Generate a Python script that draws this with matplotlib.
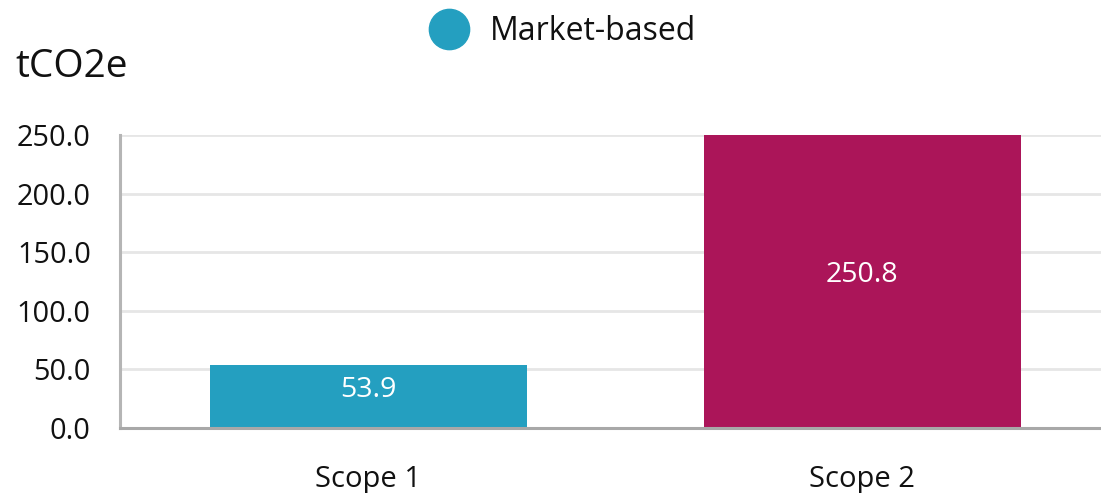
import matplotlib
matplotlib.use("Agg")
import matplotlib.pyplot as plt
from matplotlib.lines import Line2D

plt.rcParams['font.family'] = ['Open Sans', 'DejaVu Sans']

categories = ["Scope 1", "Scope 2"]
values = [53.9, 250.8]
bar_colors = ["#249fc0", "#ab1559"]
legend_label = "Market-based"
y_ticks = [0, 50, 100, 150, 200, 250]
y_unit = "tCO2e"

W, H = 1101, 493
fig = plt.figure(figsize=(W / 100, H / 100), dpi=100)
ax = fig.add_axes([120 / W, (H - 428) / H, 1 - 120 / W, (428 - 135) / H])

x = list(range(len(categories)))
bars = ax.bar(x, values, width=0.642, color=bar_colors, zorder=3)

ax.set_xlim(-0.503, 1.483)
ax.set_ylim(0, 250.3)
ax.set_yticks(y_ticks)
ax.set_yticklabels([f"{v:.1f}" for v in y_ticks])
ax.set_xticks(x)
ax.set_xticklabels(categories)

ax.tick_params(axis='y', length=0, pad=21, labelsize=20.8, labelcolor='#111111')
ax.tick_params(axis='x', length=0, pad=27, labelsize=21, labelcolor='#111111')
ax.grid(axis='y', color='#e6e6e6', linewidth=2, zorder=0)
ax.set_axisbelow(True)

for s in ['top', 'right']:
    ax.spines[s].set_visible(False)
ax.spines['left'].set_color('#b5b5b5')
ax.spines['left'].set_linewidth(2.2)
ax.spines['bottom'].set_color('#a8a8a8')
ax.spines['bottom'].set_linewidth(2.2)
ax.spines['bottom'].set_zorder(4)

# value labels inside each bar, around the middle
for xi, v in zip(x, values):
    ax.annotate(f"{v:.1f}", (xi, v / 2), xytext=(0, -1), textcoords='offset pixels',
                ha='center', va='baseline', color='white', fontsize=20.5, zorder=5)

fig.text(15 / W, 1 - 77 / H, y_unit, fontsize=28, ha='left', va='baseline', color='#111111')

handle = Line2D([], [], linestyle='none', marker='o', markersize=29,
                markerfacecolor=bar_colors[0], markeredgecolor=bar_colors[0])
fig.legend([handle], [legend_label], loc='center', bbox_to_anchor=(563 / W, 1 - 32 / H),
           frameon=False, fontsize=23, handletextpad=0.7, handlelength=1.2,
           borderpad=0, labelcolor='#111111')

fig.savefig("out.png", dpi=100)
